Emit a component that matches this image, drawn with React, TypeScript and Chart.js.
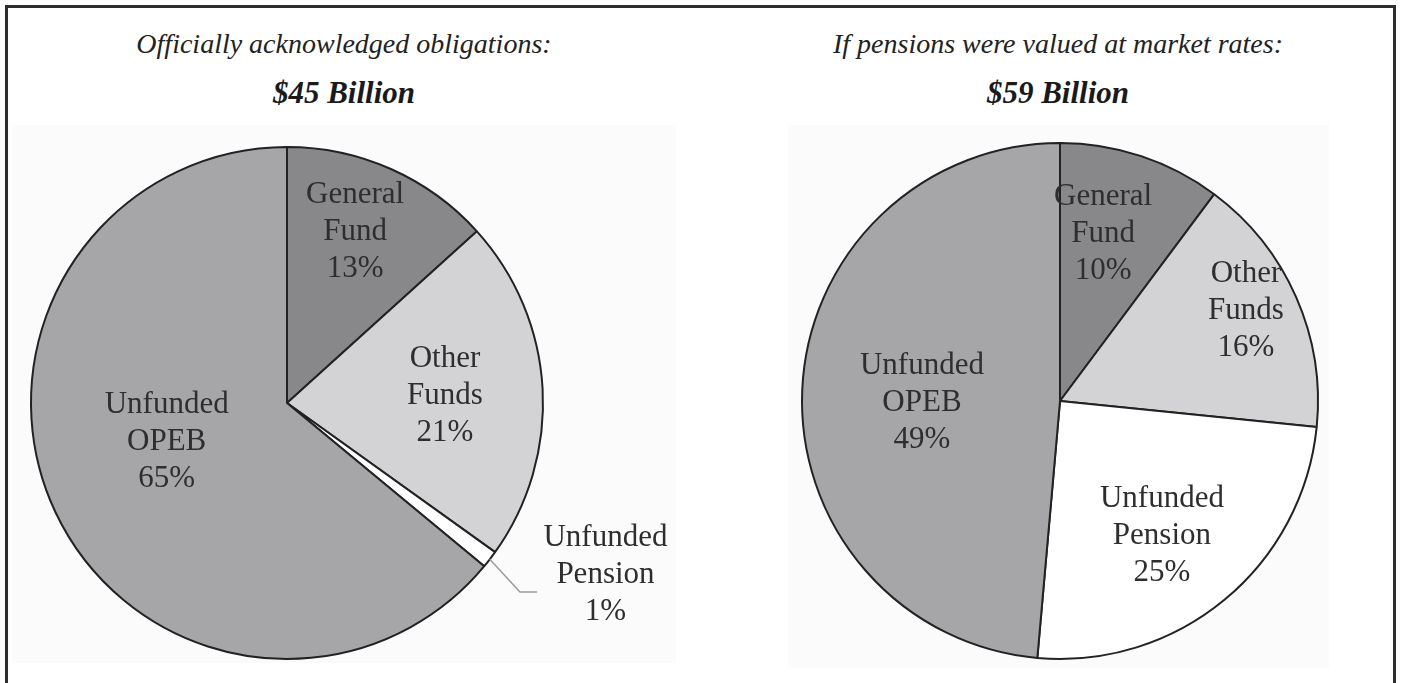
import React, { useEffect, useRef } from "react";
import { Chart, registerables } from "chart.js";

Chart.register(...registerables);

// ---- data ----
const categories = ["General Fund", "Other Funds", "Unfunded Pension", "Unfunded OPEB"];
// slice sizes as drawn in the picture (share of total, %)
const officialShares = [13.3, 21.6, 1.1, 64.0];
const marketShares = [10.2, 16.4, 24.8, 48.6];
// percentages printed on the slices
const officialPrinted = [13, 21, 1, 65];
const marketPrinted = [10, 16, 25, 49];
const leftTitle = "Officially acknowledged obligations:";
const leftSubtitle = "$45 Billion";
const rightTitle = "If pensions were valued at market rates:";
const rightSubtitle = "$59 Billion";

// ---- styles ----
const sliceColors = ["#88888a", "#d3d3d5", "#ffffff", "#a6a6a8"];
const leftLabelPos: number[][] = [[0.266, -0.668], [0.617, -0.027], [1.244, 0.672], [-0.47, 0.152]];
const rightLabelPos: number[][] = [[0.167, -0.647], [0.721, -0.349], [0.395, 0.523], [-0.535, 0.008]];
const leftLeaders: (number[][] | null)[] = [null, null, [[0.91, 0.738], [0.977, 0.738]], null];
const rightLeaders: (number[][] | null)[] = [null, null, null, null];
const SERIF = "'Liberation Serif', 'DejaVu Serif', serif";

function makeLabelPlugin(printed: number[], positions: number[][], leaders: (number[][] | null)[]) {
  return {
    id: "sliceLabels",
    afterDatasetsDraw(chart: any) {
      const ctx = chart.ctx;
      const meta = chart.getDatasetMeta(0);
      ctx.save();
      ctx.font = `31px ${SERIF}`;
      ctx.fillStyle = "#2e2e2e";
      ctx.textAlign = "center";
      ctx.textBaseline = "middle";
      meta.data.forEach((arc: any, i: number) => {
        const { x, y, outerRadius, startAngle, endAngle } = arc.getProps(
          ["x", "y", "outerRadius", "startAngle", "endAngle"],
          true
        );
        const [fx, fy] = positions[i];
        const cx = x + fx * outerRadius;
        const cy = y + fy * outerRadius;
        const lines = [...String(chart.data.labels[i]).split(" "), `${printed[i]}%`];
        lines.forEach((t: string, k: number) =>
          ctx.fillText(t, cx, cy + (k - (lines.length - 1) / 2) * 37)
        );
        const leader = leaders[i];
        if (leader) {
          const mid = (startAngle + endAngle) / 2;
          ctx.beginPath();
          ctx.moveTo(x + Math.cos(mid) * outerRadius, y + Math.sin(mid) * outerRadius);
          leader.forEach(([lx, ly]) => ctx.lineTo(x + lx * outerRadius, y + ly * outerRadius));
          ctx.strokeStyle = "#9a9a9a";
          ctx.lineWidth = 1.5;
          ctx.stroke();
        }
      });
      ctx.restore();
    },
  };
}

function PieChart(props: {
  values: number[];
  printed: number[];
  positions: number[][];
  leaders: (number[][] | null)[];
  width: number;
  padding: { left: number; right: number; top: number; bottom: number };
  style: React.CSSProperties;
}) {
  const ref = useRef<HTMLCanvasElement>(null);
  useEffect(() => {
    if (!ref.current) return;
    const chart = new Chart(ref.current, {
      type: "pie",
      data: {
        labels: categories,
        datasets: [
          {
            data: props.values,
            backgroundColor: sliceColors,
            borderColor: "#222222",
            borderWidth: 2,
          },
        ],
      },
      options: {
        responsive: false,
        animation: false,
        layout: { padding: props.padding },
        plugins: {
          legend: { display: false },
          tooltip: { enabled: false },
        },
      },
      plugins: [makeLabelPlugin(props.printed, props.positions, props.leaders)],
    } as any);
    return () => chart.destroy();
  }, []);
  return <canvas ref={ref} width={props.width} height={683} style={props.style} />;
}

function Heading(props: { center: number; title: string; subtitle: string }) {
  const base: React.CSSProperties = {
    position: "absolute",
    left: props.center - 320,
    width: 640,
    textAlign: "center",
    fontFamily: SERIF,
    fontStyle: "italic",
    whiteSpace: "nowrap",
  };
  return (
    <>
      <div style={{ ...base, top: 28, fontSize: 28, lineHeight: "32px", color: "#222" }}>{props.title}</div>
      <div style={{ ...base, top: 75, fontSize: 31, lineHeight: "36px", fontWeight: "bold", color: "#1a1a1a" }}>
        {props.subtitle}
      </div>
    </>
  );
}

export default function App() {
  return (
    <div
      style={{
        position: "fixed",
        left: 0,
        top: 0,
        width: 1401,
        height: 683,
        background: "#ffffff",
        overflow: "hidden",
      }}
    >
      <div style={{ position: "absolute", left: 12, top: 125, width: 664, height: 538, background: "#fbfbfb" }} />
      <div style={{ position: "absolute", left: 788, top: 125, width: 541, height: 543, background: "#fbfbfb" }} />
      <div
        style={{
          position: "absolute",
          left: 5,
          top: 5,
          width: 1391,
          height: 690,
          boxSizing: "border-box",
          borderTop: "3px solid #2e2e2e",
          borderLeft: "3px solid #2e2e2e",
          borderRight: "3px solid #2e2e2e",
        }}
      />
      <Heading center={344} title={leftTitle} subtitle={leftSubtitle} />
      <Heading center={1058} title={rightTitle} subtitle={rightSubtitle} />
      <PieChart
        values={officialShares}
        printed={officialPrinted}
        positions={leftLabelPos}
        leaders={leftLeaders}
        width={700}
        padding={{ left: 0, right: 126, top: 146, bottom: 23 }}
        style={{ position: "absolute", left: 0, top: 0 }}
      />
      <PieChart
        values={marketShares}
        printed={marketPrinted}
        positions={rightLabelPos}
        leaders={rightLeaders}
        width={701}
        padding={{ left: 19, right: 0, top: 142, bottom: 23 }}
        style={{ position: "absolute", left: 700, top: 0 }}
      />
    </div>
  );
}
